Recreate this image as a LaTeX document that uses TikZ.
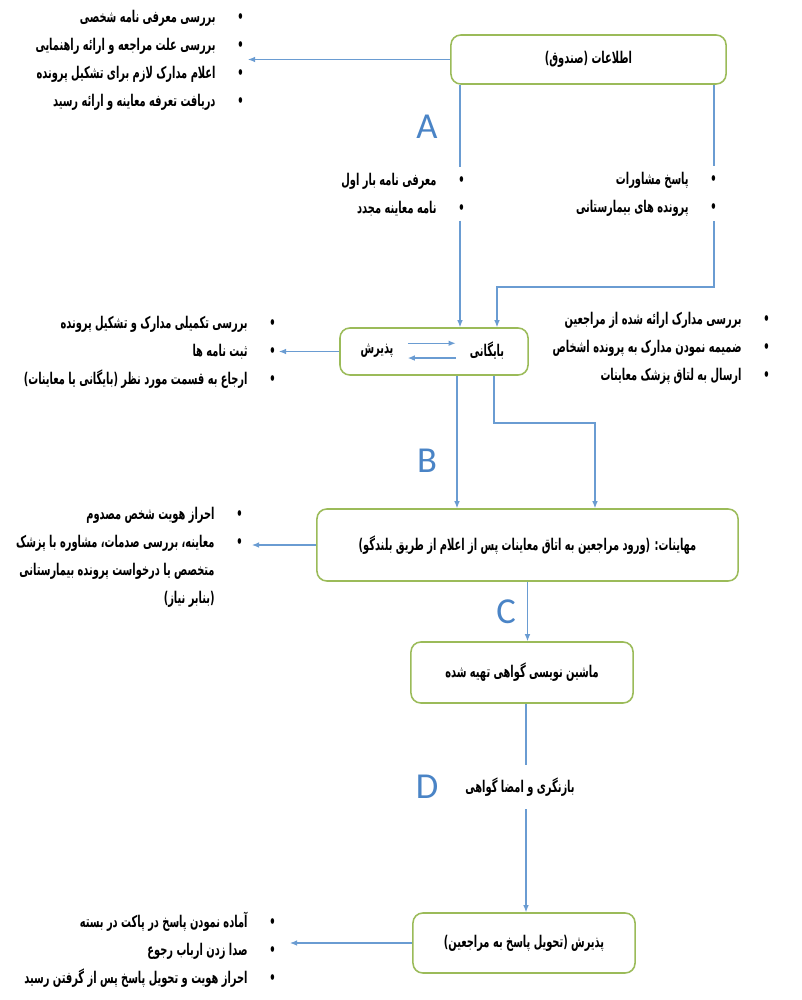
\documentclass[tikz,border=0pt]{standalone}
\usepackage{fontspec}
\setmainfont{Liberation Sans}
\newfontfamily\fafont[Script=Arabic, FakeStretch=0.61]{DejaVu Sans}
\newfontfamily\letterfont{Carlito}
\usetikzlibrary{arrows.meta}
\TeXXeTstate=1
\definecolor{boxgreen}{RGB}{155,187,89}
\definecolor{lineblue}{RGB}{106,156,210}
\definecolor{letterblue}{RGB}{74,132,198}
\newcommand{\fatext}{\fafont\bfseries\fontsize{11.5}{20}\selectfont}
\newcommand{\fa}[1]{\beginR #1\endR}
\newcommand{\pitem}[1]{\beginR\makebox[20pt][l]{•}#1\endR}
\newcommand{\pcont}[1]{\beginR\hspace*{20pt}#1\endR}
\begin{document}
\begin{tikzpicture}[x=0.025cm, y=-0.025cm,
    procbox/.style={draw=boxgreen, line width=1.1pt, rounded corners=7pt, fill=white, font=\fatext, align=center, inner sep=0pt},
    itemlist/.style={font=\fatext, align=right, inner sep=0pt, anchor=east},
    link/.style={draw=lineblue, line width=0.8pt},
    flow/.style={link, -{Latex[length=5pt, width=4pt]}},
    stageletter/.style={font=\letterfont\fontsize{26}{26}\selectfont, text=letterblue}]
    \fill[white] (0,0) rectangle (802,1000);
    \useasboundingbox (0,0) rectangle (802,1000);

    \node[procbox, minimum width=6.875cm, minimum height=1.225cm] (info) at (588.5,59.5) {\fa{اطلاعات (صندوق)}};
    \node[procbox, minimum width=4.7cm, minimum height=1.175cm] (desk) at (434,351.5) {};
    \node[font=\fatext, inner sep=1pt] (reception) at (377,351) {\fa{پذیرش}};
    \node[font=\fatext, inner sep=1pt] (archive) at (487,351) {\fa{بایگانی}};
    \node[procbox, minimum width=10.525cm, minimum height=1.8cm] (exam) at (527.5,545) {\fa{مهاینات: (ورود مراجعین به اتاق معاینات پس از اعلام از طریق بلندگو)}};
    \node[procbox, minimum width=5.55cm, minimum height=1.525cm] (typing) at (522,672.5) {\fa{ماشین نویسی گواهی تهیه شده}};
    \node[font=\fatext, inner ysep=9pt] (review) at (520,787) {\fa{بازنگری و امضا گواهی}};
    \node[procbox, minimum width=5.55cm, minimum height=1.5cm] (delivery) at (524,943) {\fa{پذیرش (تحویل پاسخ به مراجعین)}};

    \node[itemlist] (infolist) at (244,60.5) {\pitem{بررسی معرفی نامه شخصی}\\
        \pitem{بررسی علت مراجعه و ارائه راهنمایی}\\
        \pitem{اعلام مدارک لازم برای تشکیل پرونده}\\
        \pitem{دریافت تعرفه معاینه و ارائه رسید}};
    \node[itemlist] (refslist) at (465,194.5) {\pitem{معرفی نامه بار اول}\\
        \pitem{نامه معاینه مجدد}};
    \node[itemlist] (conslist) at (717,194.5) {\pitem{پاسخ مشاورات}\\
        \pitem{پرونده های بیمارستانی}};
    \node[itemlist] (reglist) at (276,352.5) {\pitem{بررسی تکمیلی مدارک و تشکیل پرونده}\\
        \pitem{ثبت نامه ها}\\
        \pitem{ارجاع به قسمت مورد نظر (بایگانی یا معاینات)}};
    \node[itemlist] (filelist) at (770,348.5) {\pitem{بررسی مدارک ارائه شده از مراجعین}\\
        \pitem{ضمیمه نمودن مدارک به پرونده اشخاص}\\
        \pitem{ارسال به لتاق پزشک معاینات}};
    \node[itemlist] (examlist) at (243,557.5) {\pitem{احراز هویت شخص مصدوم}\\
        \pitem{معاینه، بررسی صدمات، مشاوره با پزشک}\\
        \pcont{متخصص یا درخواست پرونده بیمارستانی}\\
        \pcont{(بنابر نیاز)}};
    \node[itemlist] (deliverylist) at (276,950) {\pitem{آماده نمودن پاسخ در پاکت در بسته}\\
        \pitem{صدا زدن ارباب رجوع}\\
        \pitem{احراز هویت و تحویل پاسخ پس از گرفتن رسید}};

    \node[stageletter] (stageA) at (427,127) {A};
    \node[stageletter] (stageB) at (427,461) {B};
    \node[stageletter] (stageC) at (506,612) {C};
    \node[stageletter] (stageD) at (427,787) {D};

    \coordinate (infotip) at (248,0);
    \coordinate (regtip) at (279,0);
    \coordinate (examtip) at (252,0);
    \coordinate (deliverytip) at (290,0);
    \coordinate (colA) at (460,0);
    \coordinate (colB) at (714,0);
    \coordinate (turnA) at (497,287);
    \coordinate (colC) at (457,0);
    \coordinate (colD) at (494,0);
    \coordinate (turnB) at (595,423);
    \coordinate (colE) at (526,0);

    \draw[flow] (info.west) -- (info.west -| infotip);
    \draw[link, shorten >=4pt] (info.south -| colA) -- (colA |- refslist.north);
    \draw[flow, shorten <=3pt] (colA |- refslist.south) -- (colA |- desk.north);
    \draw[link, shorten >=4pt] (info.south -| colB) -- (colB |- conslist.north);
    \draw[flow, shorten <=3pt] (colB |- conslist.south) |- (turnA) -- (turnA |- desk.north);
    \draw[flow, shorten <=9pt, shorten >=9pt] ([yshift=5.5pt]reception.east) -- ([yshift=5.5pt]reception.east -| archive.west);
    \draw[flow, shorten <=9pt, shorten >=9pt] ([yshift=-5pt]reception.east -| archive.west) -- ([yshift=-5pt]reception.east);
    \draw[flow] (desk.west) -- (desk.west -| regtip);
    \draw[flow] (desk.south -| colC) -- (colC |- exam.north);
    \draw[flow] (desk.south -| colD) |- (turnB) -- (turnB |- exam.north);
    \draw[flow] (exam.west) -- (exam.west -| examtip);
    \draw[flow] (exam.south) -- (exam.south |- typing.north);
    \draw[link] (typing.south -| colE) -- (colE |- review.north);
    \draw[flow] (colE |- review.south) -- (colE |- delivery.north);
    \draw[flow] (delivery.west) -- (delivery.west -| deliverytip);
\end{tikzpicture}
\end{document}
